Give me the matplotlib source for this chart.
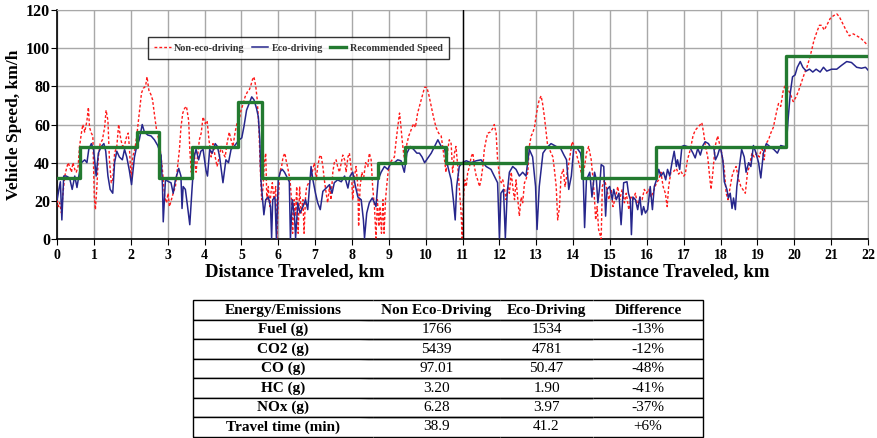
import matplotlib
matplotlib.use('Agg')
import matplotlib.pyplot as plt

plt.rcParams['font.family'] = ['Liberation Serif', 'DejaVu Serif']
plt.rcParams['font.weight'] = 'bold'

# eco-driving trace (km, km/h)
eco_km = [0, 0.05, 0.09, 0.13, 0.18, 0.25, 0.34, 0.41, 0.48, 0.54, 0.59, 0.66, 0.75, 0.81, 0.86, 0.93, 0.99,
          1.06, 1.12, 1.20, 1.27, 1.32, 1.38, 1.44, 1.51, 1.56, 1.62, 1.69, 1.77, 1.83, 1.89, 1.96,
          2.02, 2.10, 2.16, 2.23, 2.31, 2.37, 2.46, 2.55, 2.64, 2.73, 2.82, 2.86, 2.88, 2.94,
          3.03, 3.09, 3.15, 3.21, 3.30, 3.36, 3.39, 3.42, 3.48, 3.54, 3.60, 3.66, 3.72, 3.77, 3.84, 3.90, 3.96,
          4.04, 4.08, 4.14, 4.21, 4.29, 4.35, 4.41, 4.50, 4.58, 4.65, 4.72, 4.80, 4.86, 4.94,
          5.01, 5.07, 5.14, 5.21, 5.28, 5.34, 5.41, 5.46, 5.50, 5.53, 5.59, 5.61, 5.66, 5.73, 5.79, 5.82, 5.85, 5.91, 5.95,
          6.00, 6.06, 6.11, 6.17, 6.30, 6.33, 6.38, 6.44, 6.47, 6.53, 6.59, 6.67, 6.74, 6.80, 6.89, 6.94,
          7.01, 7.07, 7.14, 7.21, 7.30, 7.39, 7.46, 7.52, 7.61, 7.71, 7.80, 7.89, 7.95,
          8.02, 8.09, 8.16, 8.25, 8.31, 8.34, 8.40, 8.47, 8.55, 8.61, 8.65, 8.71, 8.79, 8.88, 8.97,
          9.06, 9.15, 9.24, 9.33, 9.42, 9.49, 9.58, 9.67, 9.76, 9.83, 9.90, 9.97,
          10.06, 10.15, 10.24, 10.33, 10.42, 10.51, 10.60, 10.69, 10.75, 10.80, 10.84, 10.91, 10.99,
          11.10, 11.23, 11.37, 11.50, 11.64, 11.77, 11.86, 11.95,
          12.00, 12.04, 12.11, 12.16, 12.21, 12.27, 12.36, 12.45, 12.54, 12.63, 12.72, 12.81, 12.90, 12.98,
          13.02, 13.08, 13.18, 13.27, 13.40, 13.54, 13.66, 13.75, 13.82, 13.88, 13.95,
          14.02, 14.11, 14.20, 14.27, 14.31, 14.36, 14.45, 14.51, 14.58, 14.63, 14.67, 14.72, 14.76, 14.83, 14.88, 14.92, 14.99,
          15.06, 15.10, 15.17, 15.24, 15.30, 15.37, 15.46, 15.50, 15.55, 15.58, 15.62, 15.69, 15.75, 15.81, 15.86, 15.91, 15.96,
          16.02, 16.09, 16.15, 16.20, 16.26, 16.32, 16.38, 16.45, 16.51, 16.56, 16.62, 16.68, 16.74, 16.80, 16.83, 16.89, 16.95,
          17.01, 17.09, 17.18, 17.25, 17.31, 17.38, 17.45, 17.52, 17.58, 17.67, 17.74, 17.81, 17.86, 17.92, 17.99,
          18.06, 18.10, 18.17, 18.21, 18.26, 18.31, 18.35, 18.40, 18.44, 18.51, 18.57, 18.64, 18.69, 18.76, 18.82, 18.89, 18.96,
          19.03, 19.09, 19.16, 19.24, 19.33, 19.44, 19.54, 19.63, 19.72, 19.78, 19.83, 19.89, 19.95,
          20.02, 20.08, 20.16, 20.23, 20.32, 20.41, 20.50, 20.59, 20.70, 20.79, 20.88,
          21.01, 21.15, 21.28, 21.42, 21.55, 21.69, 21.82, 21.93, 22.0]
eco_speed = [20.5, 26, 30, 10, 33, 33, 32, 26, 33, 27, 33, 40, 41.5, 40, 47, 50, 47,
             33, 45, 48.5, 50, 46, 33, 26, 24, 40, 46, 43, 41.5, 47, 43, 36,
             28.5, 43, 48.5, 52, 60, 56, 54.5, 54, 52, 49, 44, 27.5, 9, 31,
             30, 29.5, 24, 31, 37, 33, 16, 27.5, 26, 17, 7.5, 26, 43, 47, 41.5, 46, 47,
             36, 33, 47, 45, 50, 48.5, 43, 29.5, 41.5, 40, 47, 48.5, 50, 52,
             53, 59, 67.5, 71, 74.5, 73, 68.5, 64, 52, 31, 17, 12.7, 20.6, 22, 17, 0.5, 20.6, 22, 0,
             31, 35.5, 36.5, 35, 30, 0, 20.6, 12, 0.5, 19, 13.6, 17, 20.6, 15.4, 38, 31,
             24, 19, 15.4, 25, 26.7, 28.5, 24, 29.5, 31, 30, 33, 26.7, 33,
             35, 28, 22, 20.6, 10, 0.5, 13.6, 19, 21.5, 19, 17, 31, 35, 38, 36.5,
             40, 40, 41.5, 41, 35, 45, 48.5, 47, 45, 45, 43, 40,
             42.5, 45, 48.5, 52, 48.5, 47.5, 38, 31, 20.6, 10, 27.5, 38, 40,
             41, 40, 41, 41.5, 38, 36.5, 33, 29.5,
             0.5, 24, 26, 0.5, 24, 35, 38, 36.5, 33, 35, 33, 47, 43, 27.5,
             5, 27.5, 45, 47.5, 50, 48.5, 47.5, 44, 41.5, 26, 33,
             48.5, 47.5, 45, 35, 6, 31, 35, 22, 35, 31, 19, 27.5, 39, 38, 12, 26, 27.5,
             20.6, 26, 20.6, 24, 7.5, 29.5, 30, 24, 20.6, 2.3, 22, 20.6, 15.4, 22, 12.7, 17, 13.6,
             15.4, 27.5, 15.4, 27.5, 31, 36.5, 33, 35, 31, 36.5, 33, 40, 46, 38, 41.5, 36.5, 48.5,
             49, 48.5, 47.5, 45, 42.5, 47.5, 44, 49, 51, 50, 47.5, 48.5, 41.5, 44, 48.5,
             41.5, 30, 26, 21.5, 24, 16, 21.5, 15.4, 27.5, 38, 47, 43, 35, 40, 38, 49, 45,
             40, 32, 45, 50, 48.5, 47, 45, 49, 48.5, 48.5, 62.5, 76.5, 85,
             86, 90, 93, 90, 88, 89, 87.5, 89, 87.5, 90, 88,
             89, 89, 91, 93, 92.5, 90, 89.5, 90, 88.5]

# non-eco-driving trace (km, km/h)
non_eco_km = [0, 0.04, 0.07, 0.12, 0.16, 0.21, 0.25, 0.30, 0.34, 0.39, 0.43, 0.48, 0.52, 0.57, 0.61, 0.66, 0.70,
              0.75, 0.81, 0.85, 0.88, 0.93, 0.97, 1.01, 1.04, 1.08, 1.12, 1.17, 1.23, 1.29, 1.33, 1.38, 1.42,
              1.47, 1.51, 1.56, 1.62, 1.67, 1.73, 1.78, 1.84, 1.89, 1.93, 1.96, 2.01, 2.05, 2.11, 2.17, 2.23,
              2.29, 2.34, 2.40, 2.44, 2.49, 2.55, 2.59, 2.65, 2.70, 2.76, 2.81, 2.85, 2.88, 2.92, 2.97,
              3.01, 3.05, 3.10, 3.15, 3.21, 3.27, 3.32, 3.36, 3.41, 3.46, 3.51, 3.57, 3.60, 3.64, 3.68, 3.72,
              3.77, 3.81, 3.86, 3.91, 3.96, 4.02, 4.07, 4.12, 4.18, 4.23, 4.29, 4.34, 4.40, 4.45, 4.50, 4.56,
              4.61, 4.67, 4.72, 4.77, 4.83, 4.88, 4.94, 4.99, 5.05, 5.10, 5.16, 5.21, 5.25, 5.30, 5.34, 5.39,
              5.43, 5.48, 5.51, 5.55, 5.59, 5.62, 5.66, 5.69, 5.73, 5.77, 5.80, 5.84, 5.88, 5.93, 5.96,
              6.00, 6.04, 6.09, 6.13, 6.18, 6.21, 6.25, 6.32, 6.36, 6.39, 6.43, 6.47, 6.50, 6.54, 6.58, 6.62,
              6.67, 6.70, 6.74, 6.77, 6.83, 6.89, 6.94, 6.98, 7.03, 7.07, 7.12, 7.16, 7.21, 7.25, 7.30, 7.34,
              7.39, 7.43, 7.48, 7.52, 7.57, 7.61, 7.66, 7.71, 7.75, 7.80, 7.84, 7.89, 7.93, 7.98,
              8.02, 8.07, 8.11, 8.16, 8.18, 8.22, 8.27, 8.31, 8.37, 8.43, 8.47, 8.52, 8.56, 8.61, 8.65, 8.69,
              8.73, 8.76, 8.80, 8.84, 8.87, 8.91, 8.94, 8.98, 9.03, 9.09, 9.15, 9.20, 9.24, 9.29, 9.32, 9.36,
              9.40, 9.43, 9.49, 9.54, 9.60, 9.67, 9.72, 9.78, 9.85, 9.92, 9.97, 10.03, 10.08, 10.15, 10.21,
              10.28, 10.35, 10.42, 10.46, 10.51, 10.55, 10.60, 10.64, 10.69, 10.73, 10.78, 10.82, 10.87, 10.91,
              10.96, 10.99, 11.02, 11.06, 11.10, 11.14, 11.19, 11.23, 11.28, 11.32, 11.37, 11.41, 11.46, 11.50,
              11.55, 11.59, 11.64, 11.68, 11.75, 11.82, 11.86, 11.91, 11.95, 12.00, 12.05, 12.09, 12.14, 12.18,
              12.23, 12.27, 12.32, 12.36, 12.41, 12.45, 12.50, 12.54, 12.59, 12.63, 12.68, 12.72, 12.77, 12.81,
              12.86, 12.90, 12.95, 12.99, 13.04, 13.08, 13.13, 13.17, 13.22, 13.27, 13.31, 13.36, 13.40, 13.45,
              13.49, 13.54, 13.58, 13.63, 13.67, 13.73, 13.78, 13.84, 13.91, 13.97, 14.04, 14.11, 14.18, 14.24,
              14.31, 14.36, 14.42, 14.49, 14.54, 14.58, 14.61, 14.65, 14.69, 14.72, 14.76, 14.79, 14.85, 14.90,
              14.97, 15.03, 15.08, 15.15, 15.21, 15.26, 15.33, 15.39, 15.44, 15.51, 15.57, 15.62, 15.69, 15.75,
              15.81, 15.87, 15.93, 15.99, 16.05, 16.11, 16.18, 16.26, 16.32, 16.38, 16.44, 16.50, 16.55, 16.59,
              16.65, 16.73, 16.80, 16.86, 16.92, 17.00, 17.04, 17.10, 17.18, 17.25, 17.31, 17.38, 17.45, 17.49,
              17.54, 17.59, 17.65, 17.70, 17.74, 17.79, 17.85, 17.92, 17.97, 18.03, 18.10, 18.15, 18.20, 18.26,
              18.31, 18.37, 18.42, 18.49, 18.55, 18.60, 18.67, 18.73, 18.78, 18.85, 18.91, 18.98, 19.05, 19.12,
              19.18, 19.23, 19.30, 19.36, 19.43, 19.51, 19.57, 19.63, 19.70, 19.78, 19.84, 19.90, 19.97, 20.05,
              20.12, 20.19, 20.26, 20.34, 20.41, 20.47, 20.53, 20.61, 20.68, 20.74, 20.81, 20.88, 20.97, 21.06,
              21.15, 21.22, 21.31, 21.40, 21.49, 21.60, 21.69, 21.78, 21.87, 21.94, 22.0]
non_eco_speed = [20.5, 17, 19, 13.6, 24, 33, 36.5, 40, 38, 35, 40, 36.5, 35, 38, 48.5, 55.5, 60,
                 56, 62, 69, 58.5, 55.5, 54, 22, 15.4, 27.5, 43, 50, 52, 58.5, 67.5, 62, 41.5,
                 29.5, 31, 45, 48.5, 60, 52, 48.5, 50, 54, 55.5, 48.5, 31, 43, 47, 55.5, 66,
                 76.5, 79, 80, 85, 78, 75.5, 73, 64, 57, 52, 45, 38, 31, 22, 19,
                 24, 17, 20.5, 24, 27.5, 38, 47, 58.5, 66, 68.5, 69.5, 62, 47, 35, 38, 45,
                 35, 43, 52, 55.5, 64, 60.5, 62, 52, 43, 50, 43, 38, 43, 48.5, 45, 43,
                 50, 56, 52, 48.5, 56, 60.5, 62, 67.5, 71, 74.5, 77, 78, 80, 83.5, 85, 80,
                 73, 56, 38, 20.6, 27.5, 40, 45, 20.6, 27.5, 17, 24, 29.5, 20.6, 27.5, 0.5,
                 20.6, 35, 38, 43, 45, 41.5, 38, 31, 20.6, 3, 20.6, 12, 27.5, 3, 27.5, 13.6,
                 20.6, 3, 22, 27.5, 29.5, 33, 36.5, 40, 31, 38, 43, 44, 38, 31, 24, 19,
                 27.5, 20.6, 35, 40, 41.5, 38, 35, 40, 44, 41.5, 35, 43, 45, 36.5,
                 20.6, 33, 38, 27.5, 6.6, 27.5, 35, 31, 40, 38, 45, 41.5, 27.5, 17, 0.5, 20.6,
                 6.6, 17, 3, 20.6, 3, 20.6, 27.5, 35, 40, 41.5, 43, 52, 58.5, 66, 60.5, 52,
                 45, 41.5, 50, 54, 57, 60.5, 58.5, 66, 71, 76, 79.5, 79.5, 76, 69.5, 64,
                 58.5, 55.5, 54, 48.5, 41.5, 35, 47, 52, 50, 35, 45, 48.5, 38, 27.5,
                 13.6, 0.5, 20.6, 31, 27.5, 35, 38, 43, 45, 38, 33, 31, 27.5, 31,
                 38, 47, 52, 55.5, 56, 58, 60, 55.5, 41.5, 33, 29.5, 31, 26, 20.6,
                 27.5, 24, 35, 27.5, 20.6, 31, 20.6, 12, 22, 19, 29.5, 31, 35, 48.5,
                 54, 55.5, 58.5, 64, 69.5, 73, 75, 71, 64, 55.5, 48.5, 47, 45, 43,
                 36.5, 27.5, 10, 17, 33, 36.5, 27.5, 35, 43, 51, 48.5, 43, 38, 33,
                 38, 45, 48.5, 41.5, 31, 20.6, 10, 17, 5, 3, 0, 27.5, 31, 27.5,
                 20.6, 26, 17, 22, 27.5, 20.6, 26, 19, 24, 15.4, 22, 20.6, 24, 17,
                 22, 20.6, 26, 24, 26, 22, 25, 29.5, 31, 35, 27.5, 24, 17, 27.5,
                 35, 35.5, 37, 34, 35.5, 33, 34, 41.5, 47, 54, 57, 58.5, 60, 61,
                 55.5, 48.5, 43, 33, 26, 35, 48.5, 54, 50, 45, 36.5, 24, 20.6, 27.5,
                 33, 36.5, 38, 31, 27.5, 26, 24, 35, 38, 45, 43, 45, 43, 48.5,
                 41.5, 50, 52, 55.5, 58.5, 66, 71, 69.5, 78, 82, 78, 75.5, 72, 74.5,
                 78, 82, 86, 90, 94.5, 99, 104, 108.5, 112, 112, 109.5, 112, 115.5, 117,
                 118, 116.5, 113, 109.5, 106.5, 107.5, 106.5, 105.5, 104, 102.5, 101.5]

# recommended speed steps: start of each segment (last value repeats at the end)
rec_km = [0, 0.62, 2.18, 2.77, 3.65, 4.91, 5.55, 8.71, 9.44, 10.54, 12.73, 14.23, 16.24, 19.77, 22]
rec_speed = [32, 48, 56, 32, 48, 72, 32, 40, 48, 40, 48, 32, 48, 96, 96]

# emissions table
table_header = ['Energy/Emissions', 'Non Eco-Driving', 'Eco-Driving', 'Difference']
table_items = ['Fuel (g)', 'CO2 (g)', 'CO (g)', 'HC (g)', 'NOx (g)', 'Travel time (min)']
non_eco_vals = ['1766', '5439', '97.01', '3.20', '6.28', '38.9']
eco_vals = ['1534', '4781', '50.47', '1.90', '3.97', '41.2']
diff_vals = ['-13%', '-12%', '-48%', '-41%', '-37%', '+6%']

fig = plt.figure(figsize=(8.78, 4.38), dpi=100)
ax = fig.add_axes([0.065, 0.4543, 0.9237, 0.5228])

ax.plot(non_eco_km, non_eco_speed, color='#ff1a1a', lw=1.0, linestyle=(0, (2, 1.5)),
        label='Non-eco-driving', zorder=3)
ax.plot(eco_km, eco_speed, color='#26268c', lw=1.1, label='Eco-driving', zorder=4)
ax.step(rec_km, rec_speed, where='post', color='#237a30', lw=2.4,
        label='Recommended Speed', zorder=5)
ax.axvline(11, color='black', lw=1.0, zorder=6)

ax.set_xlim(0, 22)
ax.set_ylim(0, 120)
ax.set_xticks(range(0, 23))
ax.set_yticks(range(0, 121, 20))
ax.grid(True, color='#a8a8a8', lw=1.0)
ax.set_axisbelow(True)
for s in ['top', 'right']:
    ax.spines[s].set_color('#a8a8a8')
for s in ['left', 'bottom']:
    ax.spines[s].set_color('black')
    ax.spines[s].set_linewidth(1.2)
ax.tick_params(axis='x', labelsize=10, length=4, direction='out', pad=3)
ax.tick_params(axis='y', labelsize=11.5, length=4, direction='out', pad=1)
for lab in ax.get_xticklabels() + ax.get_yticklabels():
    lab.set_fontweight('bold')

ax.set_ylabel('Vehicle Speed, km/h', fontsize=12.5, fontweight='bold', labelpad=3)
ax.text(0.293, -0.145, 'Distance Traveled, km', transform=ax.transAxes, ha='center', va='center',
        fontsize=13.5, fontweight='bold')
ax.text(0.768, -0.145, 'Distance Traveled, km', transform=ax.transAxes, ha='center', va='center',
        fontsize=13.5, fontweight='bold')

leg = ax.legend(loc='upper left', bbox_to_anchor=(0.112, 0.882), borderaxespad=0, ncol=3,
                fontsize=7.3, frameon=True, fancybox=False, edgecolor='black', handlelength=1.6,
                columnspacing=0.7, borderpad=0.65, handletextpad=0.35)
leg.get_frame().set_linewidth(1.0)
for t in leg.get_texts():
    t.set_color('#333333')
    t.set_fontweight('bold')

# table
tax = fig.add_axes([0.2198, 0.003, 0.5809, 0.311])
tax.axis('off')
cells = [table_header] + [[table_items[i], non_eco_vals[i], eco_vals[i], diff_vals[i]]
                          for i in range(len(table_items))]
tbl = tax.table(cellText=cells, colWidths=[180, 127, 93, 110], cellLoc='center',
                bbox=[0, 0, 1, 1])
tbl.auto_set_font_size(False)
ncols = len(table_header)
for (r, c), cell in tbl.get_celld().items():
    edges = 'BT'
    if c == 0:
        edges += 'L'
    if c == ncols - 1:
        edges += 'R'
    cell.visible_edges = edges
    cell.set_linewidth(1.0)
    txt = cell.get_text()
    txt.set_fontsize(11)
    txt.set_fontfamily(['Liberation Serif'])
    txt.set_fontweight('bold' if (r == 0 or c == 0) else 'normal')

fig.savefig('out.png', dpi=100)
